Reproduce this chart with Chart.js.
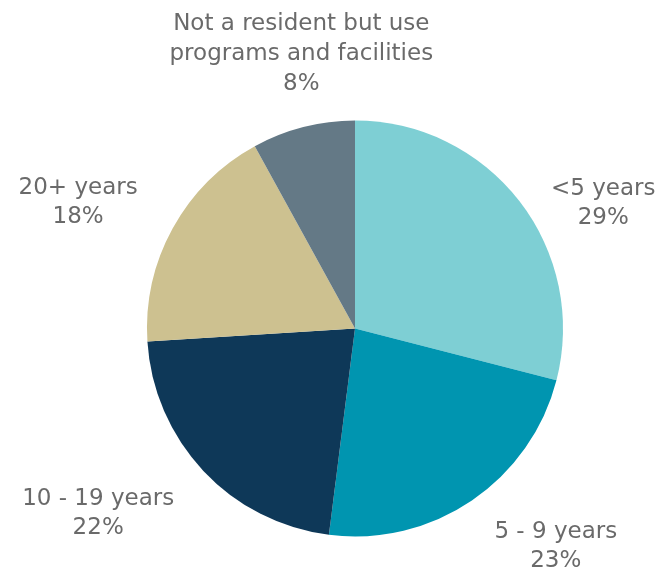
<!DOCTYPE html>
<html>
<head>
  <title>Years as resident</title>
  <script src="https://cdn.jsdelivr.net/npm/chart.js"></script>
  <style>
    html, body { margin: 0; padding: 0; background: #fff; }
    #wrap { width: 665px; height: 569px; }
  </style>
</head>
<body>
  <div id="wrap"><canvas id="pie-chart"></canvas></div>

  <script>
    let categories = ["<5 years", "5 - 9 years", "10 - 19 years", "20+ years", "Not a resident but use\nprograms and facilities"];
    let shares = [29, 23, 22, 18, 8];
    let sliceColors = ["#7ecfd4", "#0095b0", "#0e3858", "#cdc190", "#647986"];

    let labelFont = "23px 'DejaVu Sans'";
    let lineHeight = 29;
    // small vertical nudges so the labels sit clear of the pie
    let labelShiftY = [19, 5, 7, -14, 0];

    // draws each category name and its share outside its slice
    let outsideLabels = {
      id: "outsideLabels",
      afterDatasetsDraw(chart) {
        let ctx = chart.ctx;
        let meta = chart.getDatasetMeta(0);
        ctx.save();
        ctx.font = labelFont;
        ctx.fillStyle = "#6a6a6a";
        ctx.textAlign = "center";
        ctx.textBaseline = "middle";
        meta.data.forEach((arc, i) => {
          let p = arc.getProps(["x", "y", "startAngle", "endAngle", "outerRadius"], true);
          let mid = (p.startAngle + p.endAngle) / 2;
          let r = p.outerRadius + 40;
          let ax = p.x + Math.cos(mid) * r;
          let ay = p.y + Math.sin(mid) * r;
          let lines = categories[i].split("\n").concat([shares[i] + "%"]);
          let w = Math.max(...lines.map(l => ctx.measureText(l).width));
          let lh = lines.length > 2 ? 30 : lineHeight;
          let h = lines.length * lh;
          let cx, cy;
          if (Math.abs(Math.cos(mid)) < 0.4) {
            // near the top: centred above the anchor
            cx = ax + 8;
            cy = ay - h / 2 + 11;
          } else {
            cx = Math.cos(mid) > 0 ? ax + w / 2 : ax - w / 2;
            cy = ay + 8 + labelShiftY[i];
          }
          lines.forEach((l, j) => {
            ctx.fillText(l, cx, cy - h / 2 + lh * (j + 0.5));
          });
        });
        ctx.restore();
      }
    };

    new Chart(document.getElementById("pie-chart"), {
      type: "pie",
      data: {
        labels: categories,
        datasets: [{
          data: shares,
          backgroundColor: sliceColors,
          borderWidth: 0
        }]
      },
      options: {
        responsive: true,
        maintainAspectRatio: false,
        animation: false,
        layout: {
          padding: { top: 120, bottom: 32, left: 147, right: 102 }
        },
        plugins: {
          legend: { display: false },
          tooltip: { enabled: false }
        }
      },
      plugins: [outsideLabels]
    });
  </script>
</body>
</html>
